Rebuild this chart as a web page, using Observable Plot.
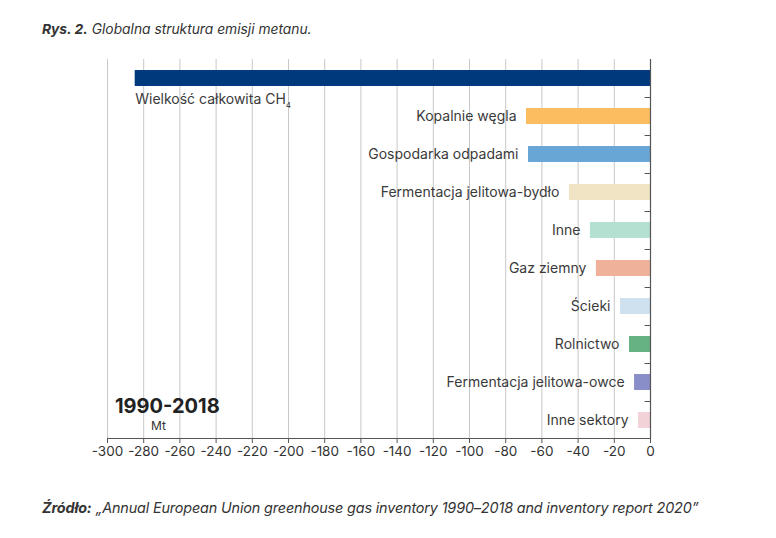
<!DOCTYPE html>
<html>
<head>
<meta charset="utf-8">
<script src="https://cdn.jsdelivr.net/npm/d3@7"></script>
<script src="https://cdn.jsdelivr.net/npm/@observablehq/plot@0.6"></script>
<style>
  html, body { margin: 0; padding: 0; background: #fff; }
  body { width: 776px; height: 538px; position: relative; overflow: hidden; font-family: Inter, "Open Sans", sans-serif; color: #333; }
  #title { position: absolute; left: 42px; top: 21px; font-size: 13.8px; font-style: italic; white-space: nowrap; }
  #caption { position: absolute; left: 42px; top: 499px; font-size: 14.4px; font-style: italic; white-space: nowrap; letter-spacing: -0.15px; }
  #period { position: absolute; left: 115px; top: 394px; font-size: 20px; font-weight: 700; color: #222; }
  #unit { position: absolute; left: 151px; top: 418px; font-size: 12px; color: #333; }
  #chart { position: absolute; left: 0; top: 0; }
</style>
</head>
<body>
<div id="chart"></div>
<div id="title"><b>Rys. 2.</b> Globalna struktura emisji metanu.</div>
<div id="period">1990-2018</div>
<div id="unit">Mt</div>
<div id="caption"><b>Źródło:</b> „Annual European Union greenhouse gas inventory 1990–2018 and inventory report 2020”</div>
<script>
const categories = [
  "Wielkość całkowita CH",
  "Kopalnie węgla",
  "Gospodarka odpadami",
  "Fermentacja jelitowa-bydło",
  "Inne",
  "Gaz ziemny",
  "Ścieki",
  "Rolnictwo",
  "Fermentacja jelitowa-owce",
  "Inne sektory"
];
const values = [-284.7, -68.5, -67.4, -44.8, -33.2, -29.9, -16.6, -11.6, -8.8, -6.6];
const colors = ["#00397c", "#fbbd5f", "#68a6d6", "#f0e4c5", "#b3e0d0", "#efb199", "#cfe0ef", "#66b283", "#8a8ec8", "#f2d1d7"];
const xTicks = d3.range(-300, 1, 20);

const data = categories.map((c, i) => ({category: c, value: values[i], color: colors[i]}));
const plotTop = 59, plotBottom = 439;
const step = (plotBottom - plotTop) / categories.length;

const chart = Plot.plot({
  width: 776,
  height: 538,
  marginTop: plotTop,
  marginBottom: 538 - plotBottom,
  marginLeft: 107,
  marginRight: 126,
  style: {fontFamily: "Inter, 'Open Sans', sans-serif", color: "#333", background: "transparent"},
  x: {domain: [-300, 0], ticks: xTicks, tickFormat: d => String(d), label: null},
  y: {domain: categories, paddingInner: 0.58, paddingOuter: 0.29, round: false, axis: null},
  marks: [
    Plot.gridX(xTicks, {stroke: "#c8c8c8", strokeOpacity: 1, strokeWidth: 1}),
    Plot.barX(data, {x1: "value", x2: 0, y: "category", fill: "color"}),
    Plot.ruleX([0], {stroke: "#555", strokeWidth: 1.2}),
    Plot.ruleY(categories.slice(1), {y: d => d, x1: -3, x2: 0, dy: -step / 2, stroke: "#555"}),
    Plot.ruleY(categories.slice(-1), {y: d => d, x1: -300, x2: 0, dy: step / 2 - 1, stroke: "#555"}),
    Plot.text(data.slice(1), {x: "value", y: "category", text: "category", textAnchor: "end", dx: -10, fontSize: 14, fill: "#3a3a3a"}),
    Plot.text(data.slice(0, 1), {x: "value", y: "category", text: "category", textAnchor: "start", dx: 0, dy: 21, fontSize: 14, fill: "#3a3a3a"}),
    Plot.axisX({ticks: xTicks, tickFormat: d => String(d), tickSize: 4, tickPadding: 3, fontSize: 13.5, fontVariant: "normal", stroke: "#555", fill: "#333", label: null})
  ]
});
document.getElementById("chart").appendChild(chart);

// subscript 4 for CH4
d3.select(chart).selectAll("text").each(function() {
  if (this.textContent === "Wielkość całkowita CH") {
    d3.select(this).append("tspan").attr("font-size", 8).attr("dy", "0.5em").text("4");
  }
});
</script>
</body>
</html>
